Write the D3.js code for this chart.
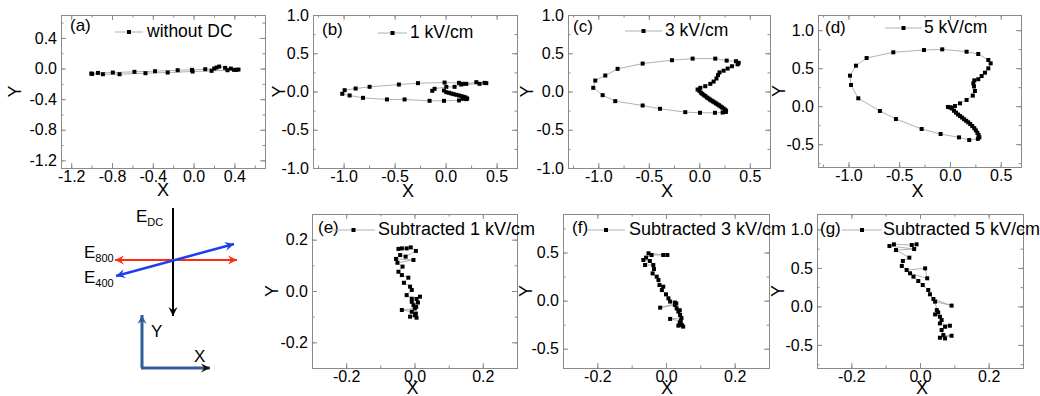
<!DOCTYPE html>
<html><head><meta charset="utf-8">
<script src="https://cdn.jsdelivr.net/npm/d3@7"></script>
<style>body{margin:0;background:#fff}svg{display:block;font-family:"Liberation Sans",Arial,sans-serif}</style>
</head><body><svg id="chart" width="1040" height="396"></svg>
<script>
// ---------------- data ----------------
const ptsA = [[-1.003,-0.065],[-0.938,-0.057],[-0.792,-0.052],[-0.580,-0.043],[-0.378,-0.035],[-0.156,-0.022],[-0.016,-0.017],[0.114,-0.009],[0.202,0.000],[0.225,0.013],[0.251,0.026],[0.309,0.009],[0.365,0.000],[0.440,-0.013],[0.420,-0.017],[0.397,-0.017],[0.332,-0.022],[0.176,-0.030],[-0.010,-0.039],[-0.254,-0.052],[-0.472,-0.061],[-0.726,-0.074],[-0.889,-0.074],[-0.995,-0.070]];
const ptsB = [[-0.016,0.013],[0.007,-0.009],[0.033,-0.017],[0.056,-0.026],[0.078,-0.035],[0.105,-0.043],[0.131,-0.052],[0.154,-0.061],[0.176,-0.069],[0.196,-0.078],[0.212,-0.092],[0.203,-0.100],[0.170,-0.096],[0.131,-0.117],[-0.016,-0.122],[-0.157,-0.122],[-0.402,-0.104],[-0.575,-0.104],[-0.810,-0.083],[-0.941,-0.052],[-1.013,-0.030],[-0.990,0.017],[-0.882,0.039],[-0.745,0.061],[-0.458,0.091],[-0.271,0.109],[-0.010,0.117],[0.131,0.113],[0.170,0.100],[0.203,0.100],[0.301,0.122],[0.382,0.113],[0.399,0.109],[0.333,0.100],[0.154,0.091],[0.088,0.061],[0.007,0.061],[-0.108,0.035],[-0.131,0.009]];
const ptsC = [[-0.017,0.026],[0.000,0.010],[0.015,-0.015],[0.030,-0.030],[0.045,-0.048],[0.060,-0.060],[0.075,-0.078],[0.090,-0.090],[0.105,-0.105],[0.120,-0.118],[0.135,-0.130],[0.150,-0.142],[0.165,-0.155],[0.180,-0.168],[0.195,-0.180],[0.210,-0.195],[0.225,-0.208],[0.240,-0.222],[0.255,-0.238],[0.265,-0.252],[0.262,-0.268],[0.231,-0.275],[0.155,-0.278],[0.007,-0.278],[-0.139,-0.270],[-0.389,-0.226],[-0.561,-0.183],[-0.832,-0.126],[-0.957,-0.048],[-1.050,0.048],[-1.030,0.143],[-0.931,0.209],[-0.809,0.296],[-0.561,0.365],[-0.271,0.409],[-0.066,0.430],[0.158,0.430],[0.271,0.404],[0.363,0.396],[0.390,0.375],[0.380,0.355],[0.323,0.330],[0.281,0.300],[0.241,0.272],[0.200,0.250],[0.185,0.215],[0.170,0.170],[0.142,0.130],[0.109,0.100],[0.059,0.069],[0.010,0.048]];
const ptsD = [[-0.020,-0.010],[0.000,-0.015],[0.020,-0.030],[0.040,-0.060],[0.060,-0.085],[0.080,-0.110],[0.100,-0.130],[0.120,-0.150],[0.140,-0.172],[0.160,-0.192],[0.180,-0.212],[0.200,-0.235],[0.220,-0.262],[0.240,-0.290],[0.255,-0.318],[0.270,-0.350],[0.282,-0.380],[0.290,-0.410],[0.275,-0.430],[0.190,-0.445],[0.089,-0.410],[-0.092,-0.366],[-0.279,-0.300],[-0.532,-0.169],[-0.690,-0.063],[-0.903,0.104],[-0.975,0.279],[-0.985,0.402],[-0.926,0.533],[-0.821,0.634],[-0.558,0.709],[-0.256,0.739],[-0.076,0.748],[0.164,0.717],[0.279,0.687],[0.378,0.608],[0.401,0.564],[0.378,0.498],[0.345,0.441],[0.312,0.397],[0.279,0.355],[0.240,0.340],[0.230,0.300],[0.237,0.260],[0.246,0.200],[0.225,0.140],[0.164,0.082],[0.099,0.038],[0.049,0.003],[0.016,-0.020]];
const ptsE = [[-0.047,0.164],[-0.037,0.166],[-0.023,0.166],[-0.011,0.170],[0.004,0.156],[-0.026,0.134],[-0.042,0.140],[-0.054,0.125],[-0.003,0.121],[-0.050,0.110],[-0.035,0.095],[-0.047,0.075],[-0.037,0.062],[-0.018,0.052],[-0.031,0.032],[-0.013,0.017],[-0.008,0.004],[-0.023,-0.016],[-0.008,-0.030],[0.016,-0.022],[0.006,-0.031],[0.010,-0.045],[-0.008,-0.042],[-0.003,-0.055],[0.005,-0.062],[0.001,-0.068],[-0.037,-0.074],[-0.008,-0.081],[0.004,-0.088],[0.001,-0.094],[-0.013,-0.100],[0.006,-0.104]];
const ptsF = [[-0.051,0.492],[-0.008,0.474],[0.004,0.474],[-0.042,0.474],[-0.058,0.447],[-0.066,0.422],[-0.047,0.412],[-0.061,0.370],[-0.037,0.370],[-0.035,0.328],[-0.039,0.283],[-0.027,0.249],[-0.022,0.214],[-0.019,0.162],[-0.008,0.145],[-0.012,0.110],[0.000,0.065],[0.007,0.024],[0.012,-0.010],[0.026,-0.020],[0.030,-0.030],[-0.017,-0.073],[0.026,-0.045],[0.031,-0.080],[0.040,-0.100],[0.036,-0.114],[0.041,-0.149],[0.045,-0.180],[0.012,-0.190],[0.043,-0.211],[0.040,-0.230],[0.046,-0.253],[0.036,-0.260],[0.050,-0.270]];
const ptsG = [[-0.010,0.806],[-0.024,0.797],[-0.076,0.806],[-0.089,0.784],[-0.017,0.745],[-0.070,0.732],[-0.031,0.633],[-0.050,0.590],[-0.053,0.525],[-0.039,0.473],[0.015,0.494],[0.021,0.365],[-0.029,0.430],[-0.019,0.386],[-0.005,0.330],[0.008,0.278],[0.024,0.213],[0.029,0.157],[0.039,0.096],[0.092,0.010],[0.044,0.062],[0.049,-0.048],[0.053,-0.078],[0.044,-0.104],[0.058,-0.134],[0.063,-0.177],[0.058,-0.221],[0.087,-0.251],[0.073,-0.264],[0.063,-0.307],[0.068,-0.372],[0.092,-0.381],[0.058,-0.407],[0.073,-0.416]];

const panelLabels = ["(a)","(b)","(c)","(d)","(e)","(f)","(g)"];
const legendNames = ["without DC","1 kV/cm","3 kV/cm","5 kV/cm","Subtracted 1 kV/cm","Subtracted 3 kV/cm","Subtracted 5 kV/cm"];
const ticksA = [-1.2,-0.8,-0.4,0,0.4];
const ticksXBig = [-1.0,-0.5,0,0.5];
const ticksYBig = [-1.0,-0.5,0,0.5,1.0];
const ticksSmall = [-0.2,0,0.2];
const ticksYD = [-0.5,0,0.5,1.0];
const ticksYF = [-0.5,0,0.5];

// ---------------- layout ----------------
const panels = [
 {data:ptsA, box:[61,15,265,168], xd:[-1.3,0.7], yd:[-1.3,0.7], xt:ticksA, yt:ticksA, xm:0.2, ym:0.2, lab:[9,16], leg:[54,82,86,22], yT:-46, xT:190},
 {data:ptsB, box:[313,15,517,168], xd:[-1.3,0.7], yd:[-1,1], xt:ticksXBig, yt:ticksYBig, xm:0.25, ym:0.25, lab:[9,20], leg:[65,94,97,23], yT:-34, xT:191, xTx:-7},
 {data:ptsC, box:[568,15,770,168], xd:[-1.3,0.7], yd:[-1,1], xt:ticksXBig, yt:ticksYBig, xm:0.25, ym:0.25, lab:[5,17], leg:[57,94,97,21], yT:-41, xT:191, xTx:-2},
 {data:ptsD, box:[818,15,1021,167], xd:[-1.3,0.7], yd:[-0.8,1.2], xt:ticksXBig, yt:ticksYD, xm:0.25, ym:0.25, lab:[7,18], leg:[67,104,106,18], yT:-39, xT:191, xTx:-2},
 {data:ptsE, box:[312,214,517,368], xd:[-0.3,0.3], yd:[-0.3,0.3], xt:ticksSmall, yt:ticksSmall, xm:0.1, ym:0.1, lab:[6,19], leg:[20,63,66,21], yT:-40, xT:388, xTx:-2},
 {data:ptsF, box:[563,214,769,368], xd:[-0.3,0.3], yd:[-0.7,0.9], xt:ticksSmall, yt:ticksYF, xm:0.1, ym:0.25, lab:[9,19], leg:[24,62,66,21], yT:-37, xT:388, xTx:1},
 {data:ptsG, box:[817,214,1023,368], xd:[-0.3,0.3], yd:[-0.8,1.2], xt:ticksSmall, yt:ticksYD, xm:0.1, ym:0.25, lab:[3,20], leg:[25,65,66,21], yT:-39, xT:388, xTx:2}
];

const svg = d3.select("#chart");
const frameCol = "#8a8a8a";
const fmt = v => v.toFixed(1);

function minorTicks(dom, step){
  const out=[]; const s=Math.ceil(dom[0]/step-1e-9);
  for(let k=s; k*step<=dom[1]+1e-9; k++){ out.push(+(k*step).toFixed(4)); }
  return out;
}

panels.forEach((p,i)=>{
  const [x0,y0,x1,y1]=p.box;
  const xs=d3.scaleLinear().domain(p.xd).range([x0,x1]);
  const ys=d3.scaleLinear().domain(p.yd).range([y1,y0]);
  const g=svg.append("g");
  const W=x1-x0, H=y1-y0;
  const xMin=minorTicks(p.xd,p.xm), yMin=minorTicks(p.yd,p.ym);
  const styleAx = sel => { sel.select(".domain").remove(); sel.selectAll("line").attr("stroke",frameCol);
     sel.selectAll("text").attr("fill","#000").style("font-size","16px").style("font-family",'"Liberation Sans",Arial,sans-serif'); };
  // minor ticks (all sides)
  g.append("g").attr("transform",`translate(0,${y1})`).call(d3.axisBottom(xs).tickValues(xMin).tickSize(-2.5).tickFormat("")).call(styleAx);
  g.append("g").attr("transform",`translate(0,${y0})`).call(d3.axisTop(xs).tickValues(xMin).tickSize(-2.5).tickFormat("")).call(styleAx);
  g.append("g").attr("transform",`translate(${x0},0)`).call(d3.axisLeft(ys).tickValues(yMin).tickSize(-2.5).tickFormat("")).call(styleAx);
  g.append("g").attr("transform",`translate(${x1},0)`).call(d3.axisRight(ys).tickValues(yMin).tickSize(-2.5).tickFormat("")).call(styleAx);
  // major ticks
  g.append("g").attr("transform",`translate(0,${y1})`).call(d3.axisBottom(xs).tickValues(p.xt).tickSize(-5).tickPadding(3).tickFormat(fmt)).call(styleAx);
  g.append("g").attr("transform",`translate(0,${y0})`).call(d3.axisTop(xs).tickValues(p.xt).tickSize(-5).tickFormat("")).call(styleAx);
  g.append("g").attr("transform",`translate(${x0},0)`).call(d3.axisLeft(ys).tickValues(p.yt).tickSize(-5).tickPadding(4).tickFormat(fmt)).call(styleAx);
  g.append("g").attr("transform",`translate(${x1},0)`).call(d3.axisRight(ys).tickValues(p.yt).tickSize(-5).tickFormat("")).call(styleAx);
  // frame
  g.append("rect").attr("x",x0+0.5).attr("y",y0+0.5).attr("width",W).attr("height",H).attr("fill","none").attr("stroke",frameCol).attr("stroke-width",1);
  // data
  const line=d3.line().x(d=>xs(d[0])).y(d=>ys(d[1]));
  g.append("path").datum(p.data).attr("d",line).attr("fill","none").attr("stroke","#a8a8a8").attr("stroke-width",0.9);
  g.selectAll("rect.pt").data(p.data).join("rect").attr("class","pt")
   .attr("x",d=>xs(d[0])-2).attr("y",d=>ys(d[1])-2).attr("width",4).attr("height",4).attr("fill","#000");
  // panel label + legend
  const lfs = i<4 ? 17.5 : 18;
  g.append("text").attr("x",x0+p.lab[0]).attr("y",y0+p.lab[1]).text(panelLabels[i]).style("font-size","17px");
  const ly=y0+p.leg[3]-5;
  g.append("line").attr("x1",x0+p.leg[0]).attr("x2",x0+p.leg[1]).attr("y1",ly).attr("y2",ly).attr("stroke","#a8a8a8").attr("stroke-width",0.9);
  g.append("rect").attr("x",(x0+(p.leg[0]+p.leg[1])/2)-2).attr("y",ly-2).attr("width",4).attr("height",4).attr("fill","#000");
  g.append("text").attr("x",x0+p.leg[2]).attr("y",y0+p.leg[3]).text(legendNames[i]).style("font-size",lfs+"px");
  // axis titles
  g.append("text").attr("transform",`translate(${x0+p.yT},${(y0+y1)/2}) rotate(-90)`).attr("text-anchor","middle").attr("dy","0.35em").text("Y").style("font-size","18px");
  g.append("text").attr("x",(x0+x1)/2+(p.xTx||0)).attr("y",p.xT).attr("text-anchor","middle").attr("dy","0.35em").text("X").style("font-size","18px");
});

// ---------------- schematic ----------------
const sch = svg.append("g");
function arrow(x1,y1,x2,y2,col,w,both,headCol){
  sch.append("line").attr("x1",x1).attr("y1",y1).attr("x2",x2).attr("y2",y2).attr("stroke",col).attr("stroke-width",w);
  const head=(ax,ay,bx,by)=>{ // tip at (bx,by)
    const a=Math.atan2(by-ay,bx-ax), L=9, Wd=4.5;
    const px=bx-L*Math.cos(a), py=by-L*Math.sin(a);
    const pts=[[bx,by],[px+Wd*Math.sin(a),py-Wd*Math.cos(a)],[px+0.35*L*Math.cos(a),py+0.35*L*Math.sin(a)],[px-Wd*Math.sin(a),py+Wd*Math.cos(a)]];
    sch.append("polygon").attr("points",pts.map(q=>q.join(",")).join(" ")).attr("fill",headCol||col);
  };
  head(x1,y1,x2,y2); if(both) head(x2,y2,x1,y1);
}
arrow(173,208,173,316,"#000",2,false);
arrow(115,260,237,260,"#ff2a10",2.2,true);
arrow(116,276,234,244,"#1f3df0",2.5,true);
arrow(142,368,142,315,"#2f5f96",3,false);
arrow(141,368,210,368,"#2f5f96",3,false,"#111");
const sub=(x,y,main,s)=>{const t=sch.append("text").attr("x",x).attr("y",y).style("font-size","17px").text(main);
  t.append("tspan").attr("dy",4).style("font-size","11px").text(s);};
sub(136,222,"E","DC");
sub(84,258,"E","800");
sub(84,283,"E","400");
sch.append("text").attr("x",151).attr("y",337).style("font-size","17px").text("Y");
sch.append("text").attr("x",194).attr("y",362).style("font-size","17px").text("X");
</script></body></html>
